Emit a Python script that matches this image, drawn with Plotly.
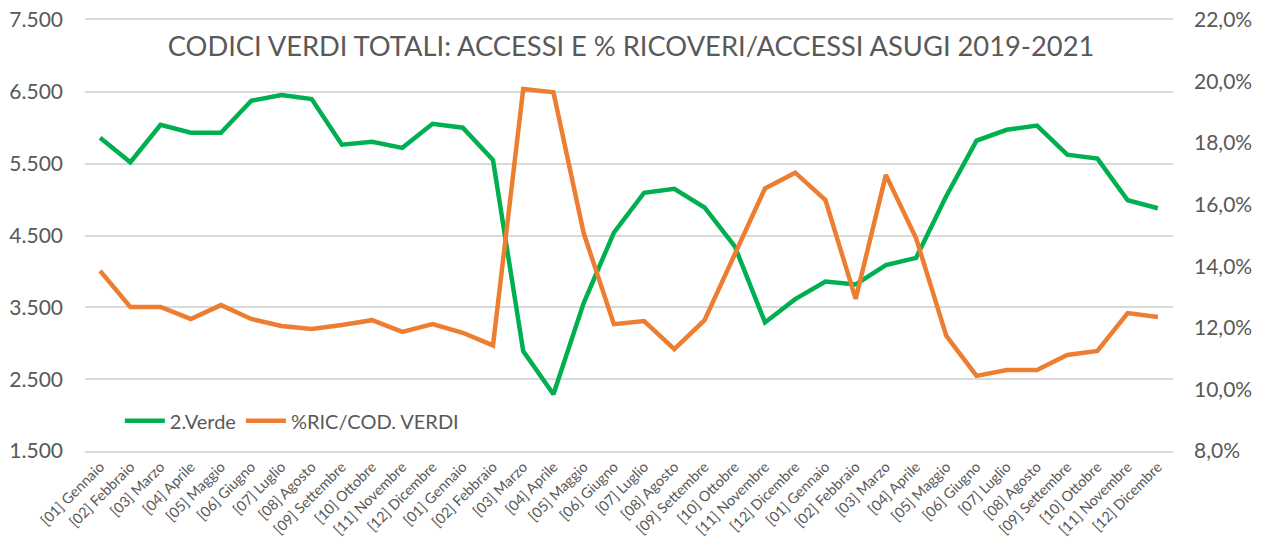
import plotly.graph_objects as go

months = ["[01] Gennaio", "[02] Febbraio", "[03] Marzo", "[04] Aprile", "[05] Maggio", "[06] Giugno",
          "[07] Luglio", "[08] Agosto", "[09] Settembre", "[10] Ottobre", "[11] Novembre", "[12] Dicembre"]
labels = months * 3

verde = [5860, 5520, 6040, 5930, 5930, 6375, 6455, 6400, 5765, 5805, 5720, 6055,
         6000, 5550, 2890, 2290, 3560, 4540, 5095, 5150, 4890, 4350, 3290, 3614,
         3860, 3818, 4087, 4189, 5050, 5820, 5972, 6030, 5625, 5570, 4990, 4880]

pct_ric = [13.85, 12.68, 12.68, 12.29, 12.74, 12.29, 12.06, 11.96, 12.09, 12.25, 11.87, 12.12,
           11.84, 11.43, 19.76, 19.65, 15.08, 12.12, 12.22, 11.31, 12.25, 14.43, 16.53, 17.04,
           16.15, 12.94, 16.97, 14.91, 11.74, 10.44, 10.63, 10.63, 11.12, 11.25, 12.48, 12.35]

left_ticks = [1500, 2500, 3500, 4500, 5500, 6500, 7500]
right_ticks = [0.08, 0.10, 0.12, 0.14, 0.16, 0.18, 0.20, 0.22]

x = list(range(len(labels)))
GREEN = "#00B050"
ORANGE = "#ED7D31"
GRAY = "#595959"
GRID = "#D9D9D9"
FONT = "Lato"

W, H = 1268, 547

fig = go.Figure()
fig.add_trace(go.Scatter(x=x, y=verde, mode="lines", name="2.Verde",
                         line=dict(color=GREEN, width=4.5), yaxis="y"))
fig.add_trace(go.Scatter(x=x, y=[v / 100 for v in pct_ric], mode="lines", name="%RIC/COD. VERDI",
                         line=dict(color=ORANGE, width=4.5), yaxis="y2"))

fig.update_layout(
    width=W, height=H,
    margin=dict(l=85, r=95, t=20, b=96),
    paper_bgcolor="white", plot_bgcolor="white",
    separators=",.",
    font=dict(family=FONT, color=GRAY),
    title=dict(text="CODICI VERDI TOTALI: ACCESSI E % RICOVERI/ACCESSI ASUGI 2019-2021",
               x=631 / W, xref="container", xanchor="center",
               y=1 - 46 / H, yref="container", yanchor="middle",
               font=dict(family=FONT, size=27.3, color=GRAY)),
    xaxis=dict(tickmode="array", tickvals=x, ticktext=labels, tickangle=-45,
               range=[-0.5, len(labels) - 0.5], showgrid=False, zeroline=False,
               showline=True, linecolor=GRID, linewidth=1.5, mirror=True,
               ticks="", automargin=False, tickfont=dict(size=14.5, color=GRAY)),
    yaxis=dict(range=[1500, 7500], tickmode="array", tickvals=left_ticks,
               tickformat=",d", showgrid=True, gridcolor=GRID, gridwidth=1.5,
               zeroline=False, ticks="", ticklabelstandoff=21, automargin=False,
               ticklabeloverflow="allow", tickfont=dict(size=21, color=GRAY)),
    yaxis2=dict(range=[0.08, 0.22], tickmode="array", tickvals=right_ticks,
                tickformat=".1%", overlaying="y", side="right", showgrid=False,
                zeroline=False, ticks="", ticklabelstandoff=20, automargin=False,
                ticklabeloverflow="allow", tickfont=dict(size=21, color=GRAY)),
    legend=dict(orientation="h", x=0.032, xanchor="left", y=0.07, yanchor="middle",
                bgcolor="rgba(0,0,0,0)", font=dict(size=20, color=GRAY),
                itemwidth=40, traceorder="normal"),
)

# remove the default 8px page margin so the figure fills the window exactly
fig.write_html("out.html", config={"displayModeBar": False},
               post_script="document.body.style.margin='0';")
